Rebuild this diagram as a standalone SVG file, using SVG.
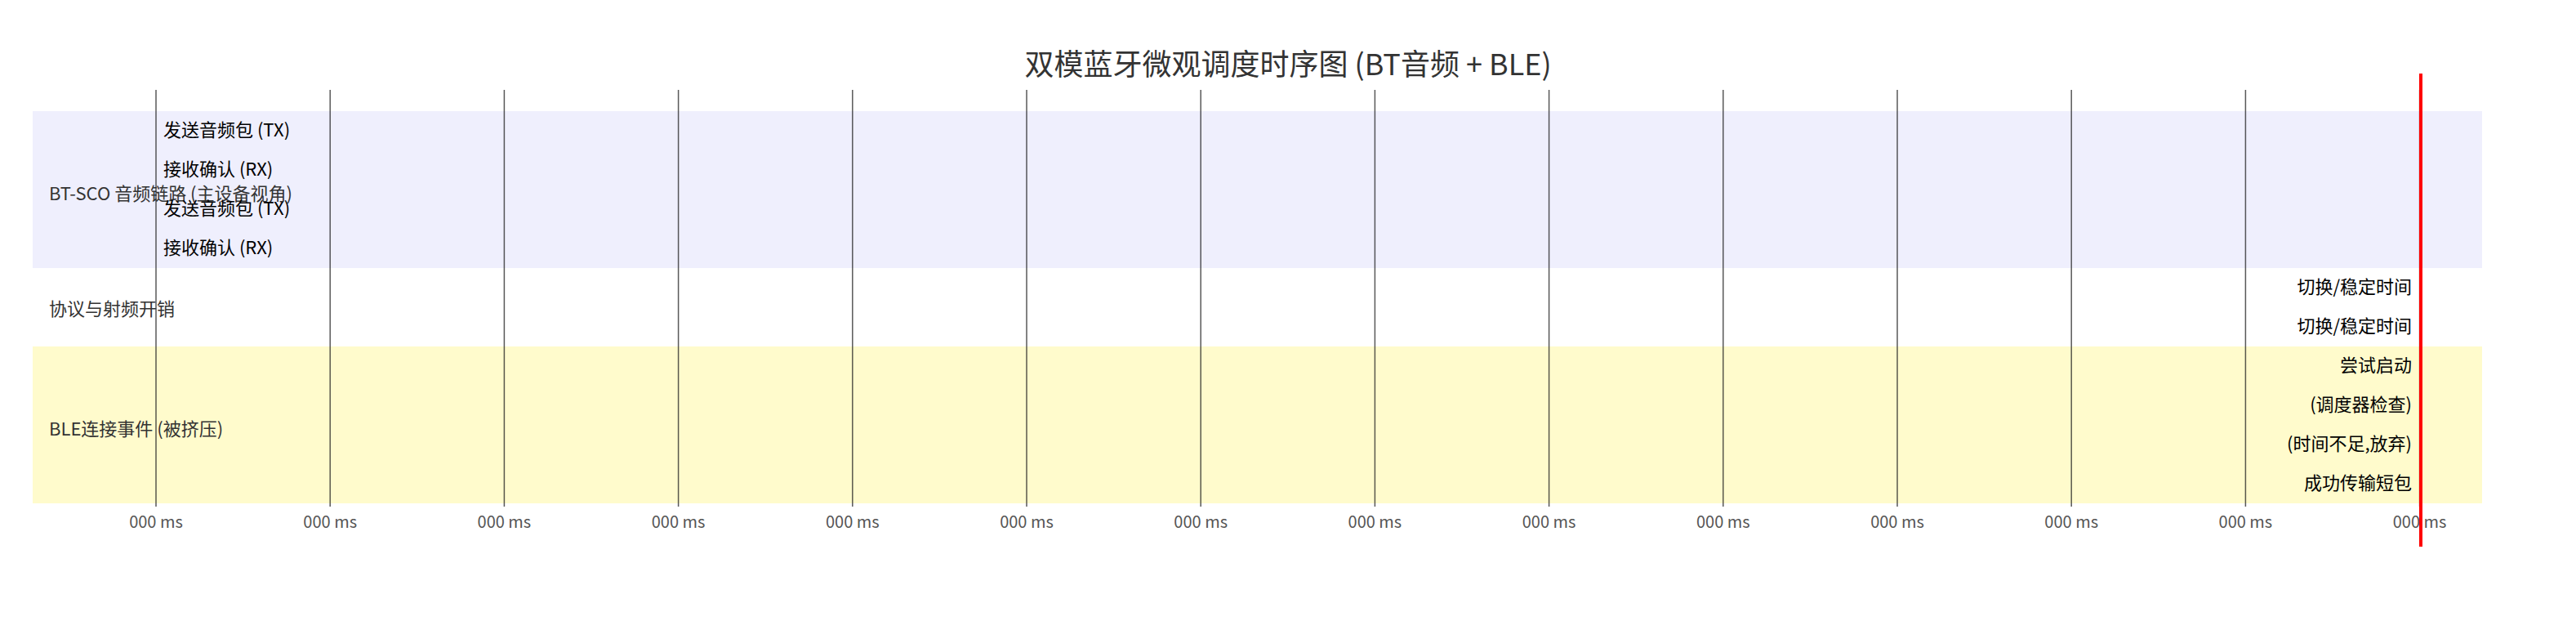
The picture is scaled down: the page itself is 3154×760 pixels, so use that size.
<svg xmlns="http://www.w3.org/2000/svg" width="3154" height="760" viewBox="0 0 3154 760">
<style>
text{font-family:"Noto Sans CJK SC","Noto Sans",sans-serif}
.title{font-size:36px;fill:#333;text-anchor:middle}
.lane{font-size:22px;fill:#333}
.ev{font-size:22px;fill:#000}
.evr{font-size:22px;fill:#000;text-anchor:end}
.tick{font-size:20px;fill:#555;text-anchor:middle}
.grid{stroke:#222;stroke-width:1.5;stroke-opacity:0.75}
</style>
<rect width="3154" height="760" fill="#fff"/>
<text class="title" x="1577" y="92">双模蓝牙微观调度时序图 (BT音频 + BLE)</text>
<g id="lane-bt">
<rect x="40" y="136" width="2999" height="192" fill="#EFEFFD"/>
<text class="lane" x="60" y="245">BT-SCO 音频链路 (主设备视角)</text>
</g>
<g id="lane-overhead">
<text class="lane" x="60" y="386">协议与射频开销</text>
</g>
<g id="lane-ble">
<rect x="40" y="424" width="2999" height="192" fill="#FFFBCC"/>
<text class="lane" x="60" y="533">BLE连接事件 (被挤压)</text>
</g>
<g id="grid">
<line class="grid" x1="191" y1="110" x2="191" y2="620"/>
<line class="grid" x1="404.2" y1="110" x2="404.2" y2="620"/>
<line class="grid" x1="617.4" y1="110" x2="617.4" y2="620"/>
<line class="grid" x1="830.6" y1="110" x2="830.6" y2="620"/>
<line class="grid" x1="1043.8" y1="110" x2="1043.8" y2="620"/>
<line class="grid" x1="1257" y1="110" x2="1257" y2="620"/>
<line class="grid" x1="1470.2" y1="110" x2="1470.2" y2="620"/>
<line class="grid" x1="1683.4" y1="110" x2="1683.4" y2="620"/>
<line class="grid" x1="1896.6" y1="110" x2="1896.6" y2="620"/>
<line class="grid" x1="2109.8" y1="110" x2="2109.8" y2="620"/>
<line class="grid" x1="2323" y1="110" x2="2323" y2="620"/>
<line class="grid" x1="2536.2" y1="110" x2="2536.2" y2="620"/>
<line class="grid" x1="2749.4" y1="110" x2="2749.4" y2="620"/>
<line class="grid" x1="2962.6" y1="110" x2="2962.6" y2="620"/>
</g>
<g id="ticks">
<text class="tick" x="191" y="646">000 ms</text>
<text class="tick" x="404.2" y="646">000 ms</text>
<text class="tick" x="617.4" y="646">000 ms</text>
<text class="tick" x="830.6" y="646">000 ms</text>
<text class="tick" x="1043.8" y="646">000 ms</text>
<text class="tick" x="1257" y="646">000 ms</text>
<text class="tick" x="1470.2" y="646">000 ms</text>
<text class="tick" x="1683.4" y="646">000 ms</text>
<text class="tick" x="1896.6" y="646">000 ms</text>
<text class="tick" x="2109.8" y="646">000 ms</text>
<text class="tick" x="2323" y="646">000 ms</text>
<text class="tick" x="2536.2" y="646">000 ms</text>
<text class="tick" x="2749.4" y="646">000 ms</text>
<text class="tick" x="2962.6" y="646">000 ms</text>
</g>
<g id="bt-events">
<text class="ev" x="200" y="167">发送音频包 (TX)</text>
<text class="ev" x="200" y="215">接收确认 (RX)</text>
<text class="ev" x="200" y="263">发送音频包 (TX)</text>
<text class="ev" x="200" y="311">接收确认 (RX)</text>
</g>
<g id="overhead-events">
<text class="evr" x="2953" y="359">切换/稳定时间</text>
<text class="evr" x="2953" y="407">切换/稳定时间</text>
</g>
<g id="ble-events">
<text class="evr" x="2953" y="455">尝试启动</text>
<text class="evr" x="2953" y="503">(调度器检查)</text>
<text class="evr" x="2953" y="551">(时间不足,放弃)</text>
<text class="evr" x="2953" y="599">成功传输短包</text>
</g>
<g id="now-marker">
<line x1="2964" y1="90" x2="2964" y2="669" stroke="#FF0000" stroke-width="4"/>
</g>
</svg>
